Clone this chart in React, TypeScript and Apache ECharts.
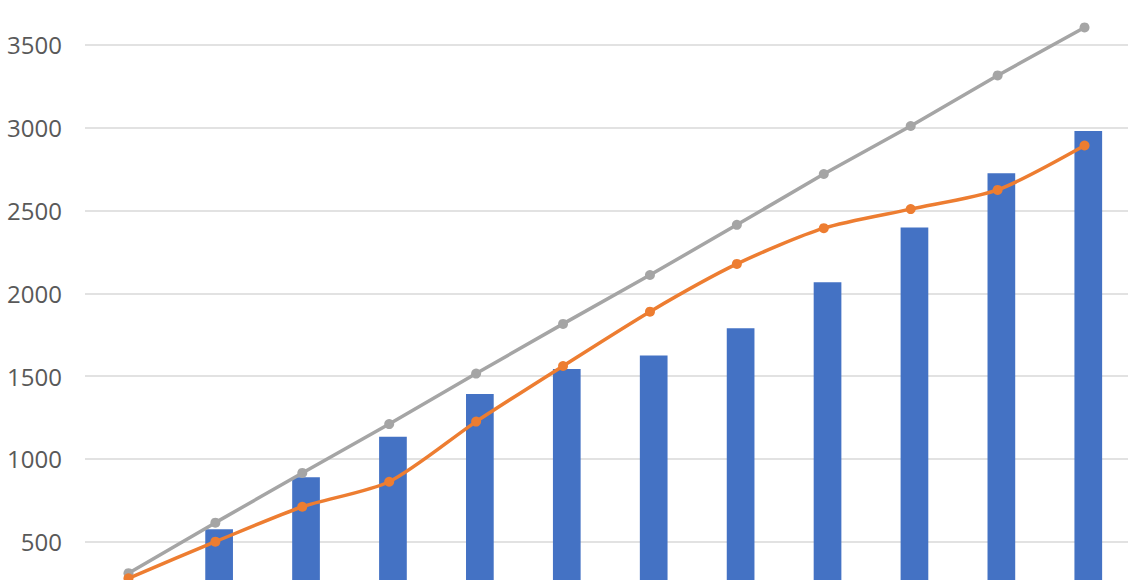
import React, { useEffect, useRef } from "react";
import * as echarts from "echarts";

const categories = ["1", "2", "3", "4", "5", "6", "7", "8", "9", "10", "11", "12"];
const barValues = [240, 575, 889, 1134, 1392, 1543, 1624, 1789, 2067, 2397, 2725, 2980];
const orangeValues = [279, 500, 711, 862, 1225, 1561, 1889, 2177, 2393, 2508, 2624, 2892];
const grayValues = [310, 615, 915, 1210, 1515, 1815, 2110, 2413, 2720, 3010, 3315, 3605];
const placeholderValues = categories.map(() => null);
const yTicks = { min: 0, max: 4000, interval: 500 };

export default function App() {
  const ref = useRef<HTMLDivElement>(null);
  useEffect(() => {
    if (!ref.current) return;
    const chart = echarts.init(ref.current, undefined, { renderer: "svg" });
    chart.setOption({
      animation: false,
      backgroundColor: "#ffffff",
      grid: { left: 85, right: 2, top: 62, bottom: 75.5, containLabel: false },
      xAxis: {
        type: "category",
        data: categories,
        axisLine: { show: true, lineStyle: { color: "#D9D9D9" } },
        axisTick: { show: false },
        axisLabel: { show: false },
      },
      yAxis: {
        type: "value",
        min: yTicks.min,
        max: yTicks.max,
        interval: yTicks.interval,
        axisLine: { show: false },
        axisTick: { show: false },
        splitLine: { lineStyle: { color: "#D9D9D9", width: 1.5 } },
        axisLabel: {
          color: "#595959",
          fontSize: 24,
          fontFamily: "Open Sans",
          margin: 23,
          showMinLabel: false,
          showMaxLabel: false,
          formatter: (v: number) => String(v),
        },
      },
      series: [
        {
          name: "spacer",
          type: "bar",
          data: placeholderValues,
          barWidth: 27.7,
          barGap: "-73%",
          silent: true,
        },
        {
          name: "Bars",
          type: "bar",
          data: barValues,
          barWidth: 27.7,
          itemStyle: { color: "#4472C4" },
        },
        {
          name: "Gray",
          type: "line",
          data: grayValues,
          symbol: "circle",
          symbolSize: 10,
          lineStyle: { color: "#A5A5A5", width: 3.5 },
          itemStyle: { color: "#A5A5A5" },
          z: 3,
        },
        {
          name: "Orange",
          type: "line",
          data: orangeValues,
          smooth: 0.25,
          symbol: "circle",
          symbolSize: 10,
          lineStyle: { color: "#ED7D31", width: 3.5 },
          itemStyle: { color: "#ED7D31" },
          z: 4,
        },
      ],
    });
    return () => chart.dispose();
  }, []);
  return (
    <div style={{ position: "fixed", left: 0, top: 0, width: 1130, height: 580, overflow: "hidden", background: "#fff" }}>
      <div ref={ref} style={{ position: "absolute", left: 0, top: -100, width: 1130, height: 800 }} />
    </div>
  );
}
